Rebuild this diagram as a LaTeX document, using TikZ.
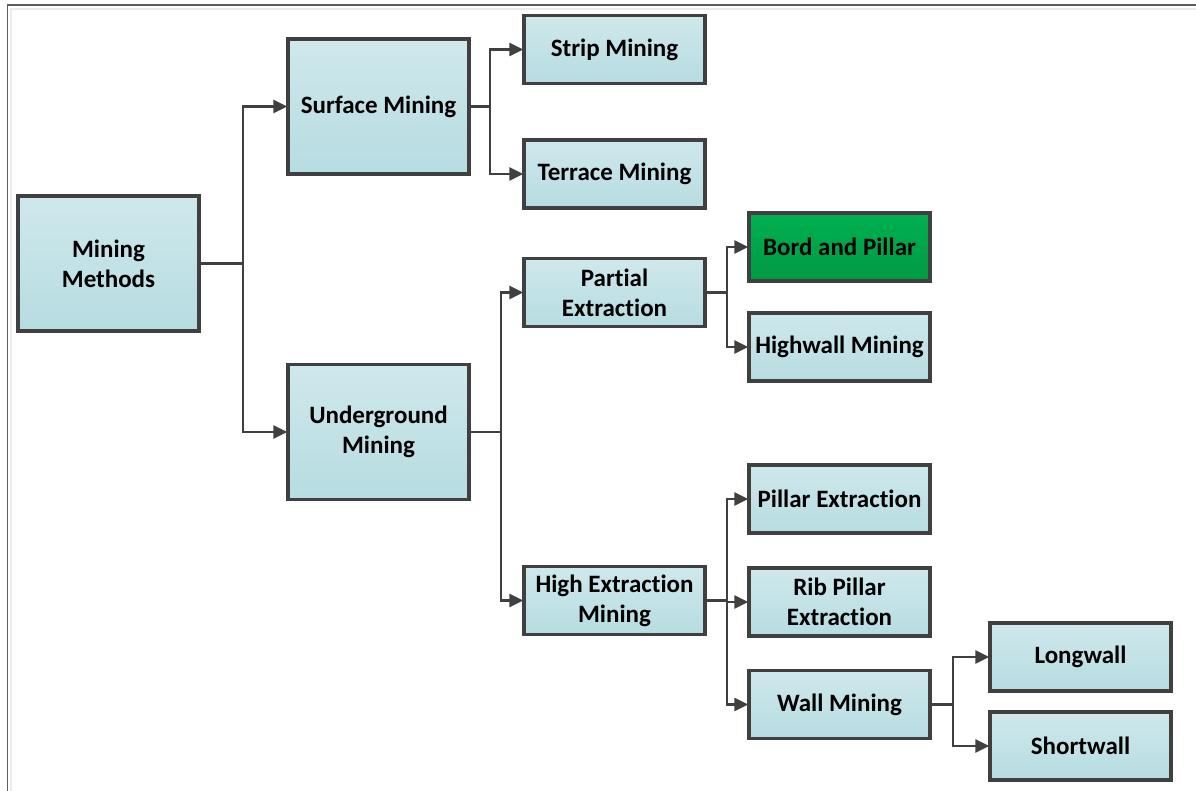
\documentclass[tikz,border=0pt]{standalone}
\usepackage{fontspec}
\setmainfont{Carlito}[Ligatures={NoCommon}]
\usetikzlibrary{arrows.meta}
\definecolor{boxtop}{HTML}{CFE8EC}
\definecolor{boxbot}{HTML}{B6DCE1}
\definecolor{greentop}{HTML}{00B050}
\definecolor{greenbot}{HTML}{009A44}
\definecolor{edge}{HTML}{404040}
\tikzset{
  mbox/.style={draw=edge, line width=3.4pt, top color=boxtop, bottom color=boxbot,
    minimum width=181pt, align=center, inner sep=0pt,
    font=\fontsize{25}{30}\selectfont\bfseries, text=black},
  tall/.style={minimum height=135pt},
  short/.style={minimum height=68pt},
  gbox/.style={top color=greentop, bottom color=greenbot},
  conn/.style={draw=edge, line width=2.4pt},
  arr/.style={conn, -{Triangle[length=14pt,width=13pt]}, shorten >=-1pt},
}
\begin{document}
\begin{tikzpicture}[x=1pt,y=-1pt]
\useasboundingbox (0,0) rectangle (1196,791);
\draw[edge!85, line width=1.8pt] (7.5,791) -- (7.5,5) -- (1196,5);
\draw[black!8, line width=1.2pt] (11,791) -- (11,9) -- (1196,9);

\node[mbox,tall]  (mm) at (108.5,263.5) {Mining\\Methods};
\node[mbox,tall]  (sm) at (378.5,106.5) {Surface Mining};
\node[mbox,tall]  (um) at (378.5,432)   {Underground\\Mining};
\node[mbox,short] (st) at (614.5,49.5)  {Strip Mining};
\node[mbox,short] (tm) at (614.5,174)   {Terrace Mining};
\node[mbox,short] (pe) at (614.5,292.5) {Partial\\Extraction};
\node[mbox,short] (he) at (614.5,600.5) {High Extraction\\Mining};
\node[mbox,short,gbox] (bp) at (839.5,247) {Bord and Pillar};
\node[mbox,short] (hw) at (839.5,347)   {Highwall Mining};
\node[mbox,short] (px) at (839.5,499)   {Pillar Extraction};
\node[mbox,short] (rp) at (839.5,602)   {Rib Pillar\\Extraction};
\node[mbox,short] (wm) at (839.5,704.5) {Wall Mining};
\node[mbox,short] (lw) at (1080.5,657)  {Longwall};
\node[mbox,short] (sw) at (1080.5,746)  {Shortwall};

\coordinate (j1) at (243,263.5);
\coordinate (j2) at (490,106.5);
\coordinate (j3) at (501,432);
\coordinate (j4) at (727,292.5);
\coordinate (j5) at (727,600.5);
\coordinate (j6) at (953,704.5);

\draw[conn] (mm.east) -- (j1);
\draw[arr] (j1) |- (sm.west);
\draw[arr] (j1) |- (um.west);
\draw[conn] (sm.east) -- (j2);
\draw[arr] (j2) |- (st.west);
\draw[arr] (j2) |- (tm.west);
\draw[conn] (um.east) -- (j3);
\draw[arr] (j3) |- (pe.west);
\draw[arr] (j3) |- (he.west);
\draw[conn] (pe.east) -- (j4);
\draw[arr] (j4) |- (bp.west);
\draw[arr] (j4) |- (hw.west);
\draw[conn] (he.east) -- (j5);
\draw[arr] (j5) |- (px.west);
\draw[arr] (j5) |- (rp.west);
\draw[arr] (j5) |- (wm.west);
\draw[conn] (wm.east) -- (j6);
\draw[arr] (j6) |- (lw.west);
\draw[arr] (j6) |- (sw.west);
\end{tikzpicture}
\end{document}
